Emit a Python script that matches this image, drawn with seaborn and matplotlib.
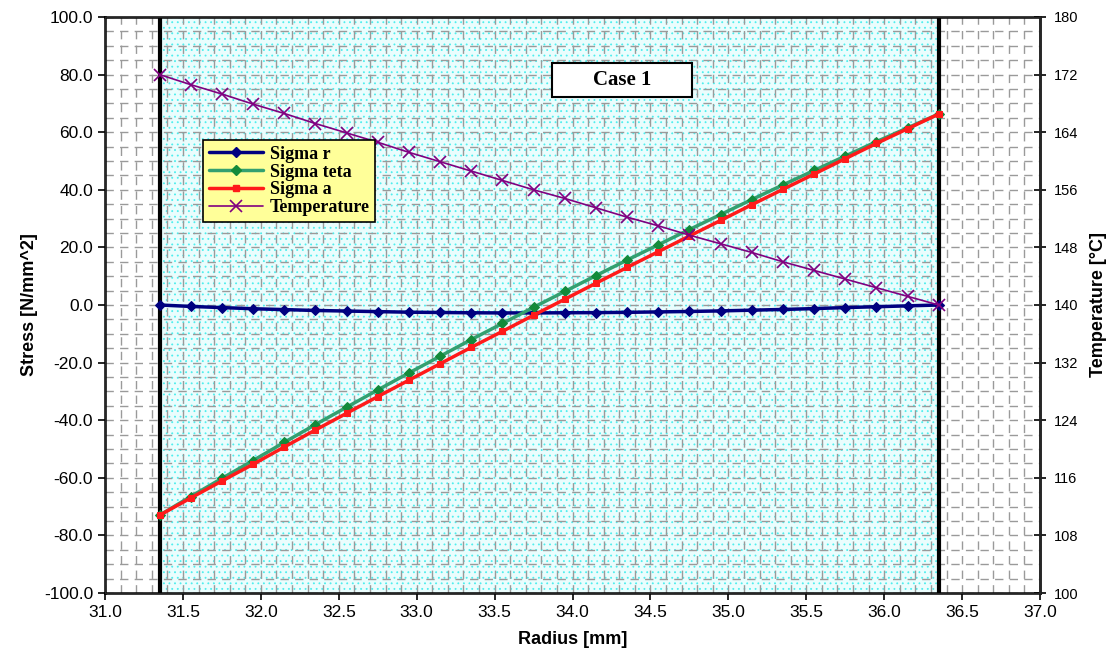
import numpy as np
import pandas as pd
import seaborn as sns
import matplotlib.pyplot as plt
from matplotlib.lines import Line2D
from matplotlib.patches import Rectangle

# radius positions [mm]
radius = [31.35, 31.55, 31.75, 31.95, 32.15, 32.35, 32.55, 32.75, 32.95, 33.15,
          33.35, 33.55, 33.75, 33.95, 34.15, 34.35, 34.55, 34.75, 34.95, 35.15,
          35.35, 35.55, 35.75, 35.95, 36.15, 36.35]

# stresses [N/mm^2]
sigma_r = [0.0, -0.5, -0.9, -1.3, -1.6, -1.9, -2.1, -2.3, -2.5, -2.6,
           -2.7, -2.75, -2.75, -2.7, -2.65, -2.55, -2.4, -2.25, -2.05, -1.8,
           -1.55, -1.25, -0.9, -0.6, -0.3, 0.0]
sigma_teta = [-73.0, -66.5, -60.2, -54.0, -47.7, -41.5, -35.5, -29.5, -23.6, -17.8,
              -12.0, -6.4, -0.8, 4.7, 10.2, 15.6, 20.9, 26.2, 31.4, 36.6,
              41.7, 46.7, 51.7, 56.7, 61.5, 66.3]
sigma_a = [-73.0, -67.0, -61.1, -55.3, -49.3, -43.4, -37.6, -31.8, -26.1, -20.4,
           -14.7, -9.15, -3.55, 2.0, 7.55, 13.05, 18.5, 23.95, 29.35, 34.8,
           40.15, 45.45, 50.8, 56.1, 61.2, 66.3]
# temperature [°C]
temperature = [172.0, 170.6, 169.3, 167.9, 166.6, 165.2, 163.9, 162.6, 161.2, 159.9,
               158.6, 157.3, 156.0, 154.8, 153.5, 152.2, 151.0, 149.7, 148.5, 147.3,
               146.0, 144.8, 143.6, 142.4, 141.2, 140.0]

df = pd.DataFrame({"Radius": radius, "Sigma r": sigma_r, "Sigma teta": sigma_teta,
                   "Sigma a": sigma_a, "Temperature": temperature})

sns.set_style("ticks")
plt.rcParams["font.family"] = ["Liberation Sans", "DejaVu Sans"]
plt.rcParams["text.color"] = "black"
plt.rcParams["axes.labelcolor"] = "black"
plt.rcParams["xtick.color"] = "black"
plt.rcParams["ytick.color"] = "black"

fig = plt.figure(figsize=(11.07, 6.66), dpi=100)
ax = fig.add_axes([0.0949, 0.1096, 0.8446, 0.8649])

# dotted cyan background between inner and outer radius
plt.rcParams["hatch.color"] = "#4eeeee"
plt.rcParams["hatch.linewidth"] = 0.6
ax.axvspan(radius[0], radius[-1], facecolor="#eafdfd", hatch="...", edgecolor="#4eeeee",
           linewidth=0, zorder=0.2)
ax.axvline(radius[0], color="black", lw=3, zorder=0.6)
ax.axvline(radius[-1], color="black", lw=3, zorder=0.6)

sns.lineplot(data=df, x="Radius", y="Sigma r", ax=ax, color="#000080", lw=2.5,
             marker="D", markersize=5, markeredgecolor="#000080", zorder=3)
sns.lineplot(data=df, x="Radius", y="Sigma teta", ax=ax, color="#33a070", lw=2.5,
             marker="D", markersize=5, markerfacecolor="#138a3a", markeredgecolor="#138a3a", zorder=3)
sns.lineplot(data=df, x="Radius", y="Sigma a", ax=ax, color="#ff1a1a", lw=2.5,
             marker="s", markersize=5, markeredgecolor="#ff1a1a", zorder=3)

ax.set_xlim(31.0, 37.0)
ax.set_ylim(-100, 100)
ax.set_xticks(np.arange(31.0, 37.01, 0.5))
ax.set_xticks(np.arange(31.0, 37.01, 0.1), minor=True)
ax.set_yticks(np.arange(-100, 101, 20))
ax.set_yticks(np.arange(-100, 101, 5), minor=True)
ax.set_xticklabels([f"{v:.1f}" for v in np.arange(31.0, 37.01, 0.5)], fontsize=12.5)
ax.set_yticklabels([f"{v:.1f}" for v in np.arange(-100, 101, 20)], fontsize=12.5)
ax.grid(which="both", color="#9a9a9a", lw=1, linestyle=(0, (6, 4.5)))
ax.set_axisbelow(True)
ax.tick_params(which="major", direction="out", length=5, width=1.2, color="black")
ax.tick_params(which="minor", length=0)
ax.set_xlabel("Radius [mm]", fontsize=13, fontweight="bold", labelpad=8)
ax.set_ylabel("Stress [N/mm^2]", fontsize=13, fontweight="bold", labelpad=4)
for s in ax.spines.values():
    s.set_linewidth(1.8)
    s.set_color("black")

ax2 = ax.twinx()
sns.lineplot(data=df, x="Radius", y="Temperature", ax=ax2, color="#800080", lw=1.2,
             marker="x", markersize=8, markeredgewidth=1.2, markeredgecolor="#800080")
ax2.set_ylim(100, 180)
ax2.set_yticks(np.arange(100, 181, 8))
ax2.tick_params(axis="y", direction="inout", length=8, width=1.2, labelsize=10.5, pad=6,
                color="black", labelcolor="black")
ax2.set_ylabel("Temperature [°C]", fontsize=13, fontweight="bold", labelpad=8)
ax2.spines["right"].set_linewidth(1.8)

handles = [
    Line2D([], [], color="#000080", lw=2.5, marker="D", markersize=5),
    Line2D([], [], color="#33a070", lw=2.5, marker="D", markersize=5,
           markerfacecolor="#138a3a", markeredgecolor="#138a3a"),
    Line2D([], [], color="#ff1a1a", lw=2.5, marker="s", markersize=5),
    Line2D([], [], color="#800080", lw=1.2, marker="x", markersize=9, markeredgewidth=1.2),
]
leg = ax2.legend(handles, ["Sigma r", "Sigma teta", "Sigma a", "Temperature"],
                 loc="upper left", bbox_to_anchor=(0.105, 0.786), borderaxespad=0,
                 prop={"family": "Liberation Serif", "weight": "bold", "size": 13},
                 frameon=True, fancybox=False, facecolor="#ffff99", edgecolor="black",
                 framealpha=1, labelspacing=0.05, handlelength=3.0, borderpad=0.3,
                 handletextpad=0.4)
leg.get_frame().set_linewidth(1.2)
leg.set_zorder(10)

# "Case 1" label box
ax2.add_patch(Rectangle((0.478, 0.861), 0.150, 0.059, transform=ax2.transAxes,
                        facecolor="white", edgecolor="black", lw=1.5, zorder=9))
ax2.text(0.553, 0.891, "Case 1", transform=ax2.transAxes, ha="center", va="center",
         fontsize=15, fontweight="bold", family="Liberation Serif", zorder=10)

fig.savefig("out.png", dpi=100)
